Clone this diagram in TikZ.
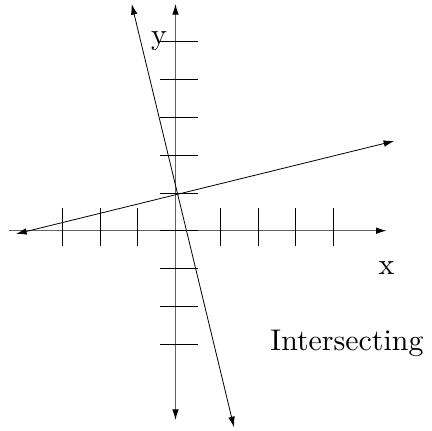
\documentclass[tikz,border=0pt]{standalone}
\usepackage{xcolor}
\usepackage{tikz}
\usetikzlibrary{arrows.meta}

\begin{document}
\begin{tikzpicture}[
  axisline/.style={draw=black!62, line width=0.9pt, -{Latex[length=8pt,width=5pt,color=black]}},
  tickline/.style={draw=black, line width=0.5pt},
  graphline/.style={draw=black, line width=0.6pt, {Latex[length=8pt,width=5pt]}-{Latex[length=8pt,width=5pt]}},
  lbl/.style={anchor=base, inner sep=0pt, scale=2.25}]
\useasboundingbox (-4.643,-5.299) rectangle (6.786,6.103);
% axes
\coordinate (xl) at (-4.405,0);
\coordinate (xr) at (5.587,0);
\coordinate (yb) at (0,-5.008);
\coordinate (yt) at (0,5.997);
\draw[axisline] (xl) -- (xr);
\draw[axisline, {Latex[length=8pt,width=5pt,color=black]}-{Latex[length=8pt,width=5pt,color=black]}] (yb) -- (yt);
% ticks
\foreach \t in {-3,-2,-1}
  \draw[tickline] (\t,-0.4) -- (\t,0.6);
\foreach \t in {1.18,2.18,3.18,4.18}
  \draw[tickline] (\t,-0.4) -- (\t,0.6);
\foreach \t in {-3,...,5}
  \draw[tickline] (-0.4,\t) -- (0.6,\t);
% the two lines
\coordinate (a1) at (-4.22,-0.087);
\coordinate (a2) at (5.788,2.373);
\coordinate (b1) at (-1.159,5.997);
\coordinate (b2) at (1.548,-5.201);
\draw[graphline] (a1) -- (a2);
\draw[graphline] (b1) -- (b2);
% labels
\node[lbl] (xlab) at (5.585,-1.172) {x};
\node[lbl] (ylab) at (-0.437,4.93) {y};
\node[lbl] (caption) at (4.537,-3.175) {Intersecting};
\end{tikzpicture}
\end{document}
